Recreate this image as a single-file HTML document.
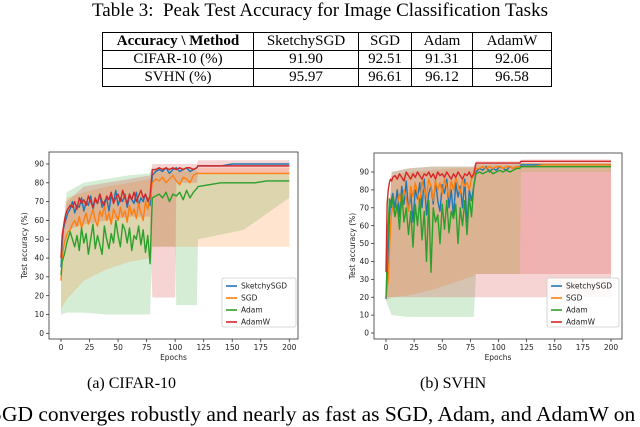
<!DOCTYPE html>
<html><head><meta charset="utf-8">
<style>
body{margin:0;width:640px;height:420px;overflow:hidden;background:#fff;position:relative;font-family:"Liberation Serif",serif;color:#000}
.title{position:absolute;top:0;left:0;width:640px;text-align:center;font-size:19px;line-height:22px;}
table{position:absolute;left:102px;top:32px;border-collapse:collapse;font-size:15px;line-height:17px}
td{border:1px solid #000;text-align:center;padding:0 6px;height:17px}
.cap{position:absolute;top:375px;font-size:16px}
.bottom{position:absolute;top:402px;left:-10px;font-size:21.5px;white-space:nowrap}
svg{position:absolute;left:0;top:0}
</style></head><body>
<div class="title">Table 3:&nbsp; Peak Test Accuracy for Image Classification Tasks</div>
<table>
<tr><td style="width:138px"><b>Accuracy \ Method</b></td><td style="width:92px">SketchySGD</td><td style="width:40px">SGD</td><td style="width:48px">Adam</td><td style="width:66px">AdamW</td></tr>
<tr><td>CIFAR-10 (%)</td><td>91.90</td><td>92.51</td><td>91.31</td><td>92.06</td></tr>
<tr><td>SVHN (%)</td><td>95.97</td><td>96.61</td><td>96.12</td><td>96.58</td></tr>
</table>
<svg id="chart" width="640" height="420"></svg>
<div class="cap" style="left:87px">(a) CIFAR-10</div>
<div class="cap" style="left:420px">(b) SVHN</div>
<div class="bottom">SGD converges robustly and nearly as fast as SGD, Adam, and AdamW on</div>
<script>
const epochs=[0,1,2,3,4,5,6,8,10,12,14,16,18,20,22,24,26,28,30,32,34,36,38,40,42,44,46,48,50,52,54,56,58,60,62,64,66,68,70,72,74,76,78,80,83,86,89,92,95,98,101,104,107,110,113,116,119,120,130,140,150,160,170,180,190,200];
const seriesNames=["SketchySGD","SGD","Adam","AdamW"];
const cifarSketchy=[35,48,55,58,60,62,64,66,70,64,68,67,72,65,70,68,73,66,71,69,74,67,70,72,65,73,70,76,68,72,70,74,67,73,71,69,75,68,72,70,74,71,68,84,86,87,86,88,85,87,88,86,87,88,86,87,88,89,89,89,90,90,90,90,90,90];
const cifarSGD=[28,38,45,48,50,52,54,55,58,60,57,62,56,60,64,58,62,66,60,57,65,62,68,60,64,58,66,63,60,67,62,65,59,68,63,66,61,69,64,60,70,66,72,80,82,81,83,80,82,84,81,79,83,82,80,84,85,85,85,85,85,85,85,85,85,85];
const cifarAdam=[31,38,40,42,45,48,50,54,50,46,52,44,56,48,53,42,50,58,45,52,47,42,57,50,45,53,48,60,52,46,58,55,48,56,44,52,50,57,47,55,43,52,37,72,73,74,72,75,70,74,73,75,71,76,72,75,77,78,79,80,80,80,80,81,81,81];
const cifarAdamW=[40,52,56,60,63,65,66,68,67,70,66,72,69,71,68,73,70,67,72,69,74,70,68,73,71,75,69,72,74,70,76,72,69,74,71,75,70,73,76,72,74,70,73,87,87,88,87,88,87,88,87,88,87,88,88,87,88,89,89,89,89,89,89,89,89,89];
const svhnSketchy=[19,30,45,65,72,75,78,70,80,65,82,72,85,68,78,62,80,75,84,70,86,66,78,82,72,85,74,68,83,78,86,70,80,65,84,76,82,70,86,60,80,74,82,90,92,91,93,90,92,91,93,92,91,93,92,93,93,94,94,94,94,94,94,94,94,94];
const svhnSGD=[20,25,30,45,60,68,70,65,72,78,70,80,75,68,82,76,84,78,72,85,80,76,86,82,74,85,80,84,78,86,82,76,85,80,87,83,78,86,82,84,80,86,88,92,92,93,92,93,92,93,93,92,93,93,92,93,93,93,93,94,94,94,94,94,94,94];
const svhnAdam=[20,40,60,75,72,70,76,65,72,58,78,62,70,55,68,48,72,60,75,52,68,40,74,34,70,62,66,50,72,58,74,56,68,64,72,50,70,60,74,55,76,65,82,89,90,89,90,91,89,90,91,90,91,90,91,92,92,93,93,93,93,93,93,93,93,93];
const svhnAdamW=[34,72,80,84,86,85,87,88,86,89,87,85,90,88,86,89,87,90,88,86,89,88,90,87,89,86,90,88,89,87,90,88,86,89,87,90,88,86,89,88,90,87,89,95,95,95,95,95,95,95,95,95,95,95,95,95,95,96,96,96,96,96,96,96,96,96];
const bandEpochs=[0,5,20,40,60,78,80,100,101,119,120,160,200];
const cifarAdamLo=[10,11,11,10,10,10,46,46,15,15,50,55,72];
const cifarAdamHi=[45,75,80,82,84,85,88,88,88,88,85,85,85];
const cifarSGDLo=[13,18,28,34,38,40,46,46,46,46,46,46,46];
const cifarSGDHi=[40,72,75,78,80,82,86,86,86,86,88,88,88];
const cifarAdamWLo=[35,55,58,60,62,62,19,19,80,80,85,85,85];
const cifarAdamWHi=[45,70,78,80,82,84,90,90,90,90,92,92,92];
const svhnAdamLo=[18,10,9,9,9,9,33,33,33,33,90,90,90];
const svhnAdamHi=[40,90,92,93,93,93,95,95,95,95,95,95,95];
const svhnSGDLo=[18,20,21,24,28,32,33,33,33,33,90,90,90];
const svhnSGDHi=[40,88,90,91,92,92,94,94,94,94,95,95,95];
const svhnAdamWLo=[20,20,20,20,20,20,20,20,20,20,20,20,20];
const svhnAdamWHi=[40,90,92,93,93,93,96,96,96,96,97,97,97];
const svhnAdamWCoreLo=[33,33,33,33,33,33,33,33,33,33,33,33,33];
const svhnAdamWCoreHi=[33,33,33,33,33,33,33,33,33,33,90,90,90];
const xTicks=[0,25,50,75,100,125,150,175,200];
const yTicksC=[0,10,20,30,40,50,60,70,80,90];
const colors=["#1f77b4","#ff7f0e","#2ca02c","#d62728"];
const NS="http://www.w3.org/2000/svg";
const svg=document.getElementById('chart');
function mk(tag,attrs,parent){const e=document.createElementNS(NS,tag);for(const k in attrs)e.setAttribute(k,attrs[k]);(parent||svg).appendChild(e);return e;}
function drawChart(cfg){
  const g=mk('g',{});
  
  
  const sx=e=>cfg.x0+(cfg.x200-cfg.x0)*e/200;
  const sy=v=>cfg.y0-(cfg.y0-cfg.y90)*v/90;
  cfg.bands.forEach(([b,ci])=>{
    let p=bandEpochs.map((e,i)=>sx(e)+','+sy(b[1][i]));
    p=p.concat(bandEpochs.map((e,i)=>sx(e)+','+sy(b[0][i])).reverse());
    const poly=mk('polygon',{points:p.join(' '),fill:colors[ci],'fill-opacity':0.2},g);
    
    
  });
  cfg.series.forEach((s,ci)=>{
    const pl=mk('polyline',{points:epochs.map((e,i)=>sx(e)+','+sy(s[i])).join(' '),fill:'none',stroke:colors[ci],'stroke-width':1.4,'stroke-linejoin':'round'},g);
    
    
  });
  const fr=mk('rect',{x:cfg.L,y:cfg.T,width:cfg.R-cfg.L,height:cfg.B-cfg.T,fill:'none',stroke:'#333','stroke-width':0.8},g);
  
  
  xTicks.forEach(t=>{
    mk('line',{x1:sx(t),x2:sx(t),y1:cfg.B,y2:cfg.B+3,stroke:'#333','stroke-width':0.8},g);
    const tx=mk('text',{x:sx(t),y:cfg.B+11,'font-size':7.5,'text-anchor':'middle','font-family':'DejaVu Sans, sans-serif',fill:'#222'},g);
    tx.textContent=t;
    
    
  });
  yTicksC.forEach(t=>{
    mk('line',{x1:cfg.L-3,x2:cfg.L,y1:sy(t),y2:sy(t),stroke:'#333','stroke-width':0.8},g);
    const tx=mk('text',{x:cfg.L-5,y:sy(t)+2.6,'font-size':7.5,'text-anchor':'end','font-family':'DejaVu Sans, sans-serif',fill:'#222'},g);
    tx.textContent=t;
    
    
  });
  const xl=mk('text',{x:(cfg.L+cfg.R)/2,y:cfg.B+21,'font-size':7.5,'text-anchor':'middle','font-family':'DejaVu Sans, sans-serif',fill:'#222'},g);
  xl.textContent='Epochs';
  
  
  const yl=mk('text',{x:0,y:0,'font-size':7.5,'text-anchor':'middle','font-family':'DejaVu Sans, sans-serif',fill:'#222',transform:`translate(${cfg.ylx},${(cfg.T+cfg.B)/2}) rotate(-90)`},g);
  yl.textContent='Test accuracy (%)';
  
  
  const lg=mk('g',{},g);
  
  
  mk('rect',{x:cfg.lgx,y:278,width:cfg.lgw,height:49,fill:'#fff','fill-opacity':0.85,stroke:'#ccc','stroke-width':0.8,rx:2},lg);
  seriesNames.forEach((n,i)=>{
    const y=286+i*12;
    mk('line',{x1:cfg.lgx+4,x2:cfg.lgx+15,y1:y,y2:y,stroke:colors[i],'stroke-width':1.6},lg);
    const t=mk('text',{x:cfg.lgx+19,y:y+2.6,'font-size':7.5,'font-family':'DejaVu Sans, sans-serif',fill:'#222'},lg);
    t.textContent=n;
    
    
  });
}
drawChart({name:'cifar-chart',L:49,R:298,T:152,B:339,x0:61,x200:289.3,y0:333.3,y90:164,ylx:27,lgx:222,lgw:74,
  series:[cifarSketchy,cifarSGD,cifarAdam,cifarAdamW],
  bands:[[[cifarAdamLo,cifarAdamHi],2],[[cifarSGDLo,cifarSGDHi],1],[[cifarAdamWLo,cifarAdamWHi],3]]});
drawChart({name:'svhn-chart',L:374,R:622,T:153,B:339,x0:386,x200:611,y0:333,y90:172,ylx:355,lgx:547,lgw:72,
  series:[svhnSketchy,svhnSGD,svhnAdam,svhnAdamW],
  bands:[[[svhnAdamLo,svhnAdamHi],2],[[svhnSGDLo,svhnSGDHi],1],[[svhnAdamWLo,svhnAdamWHi],3],[[svhnAdamWCoreLo,svhnAdamWCoreHi],3]]});
</script>
</body></html>
